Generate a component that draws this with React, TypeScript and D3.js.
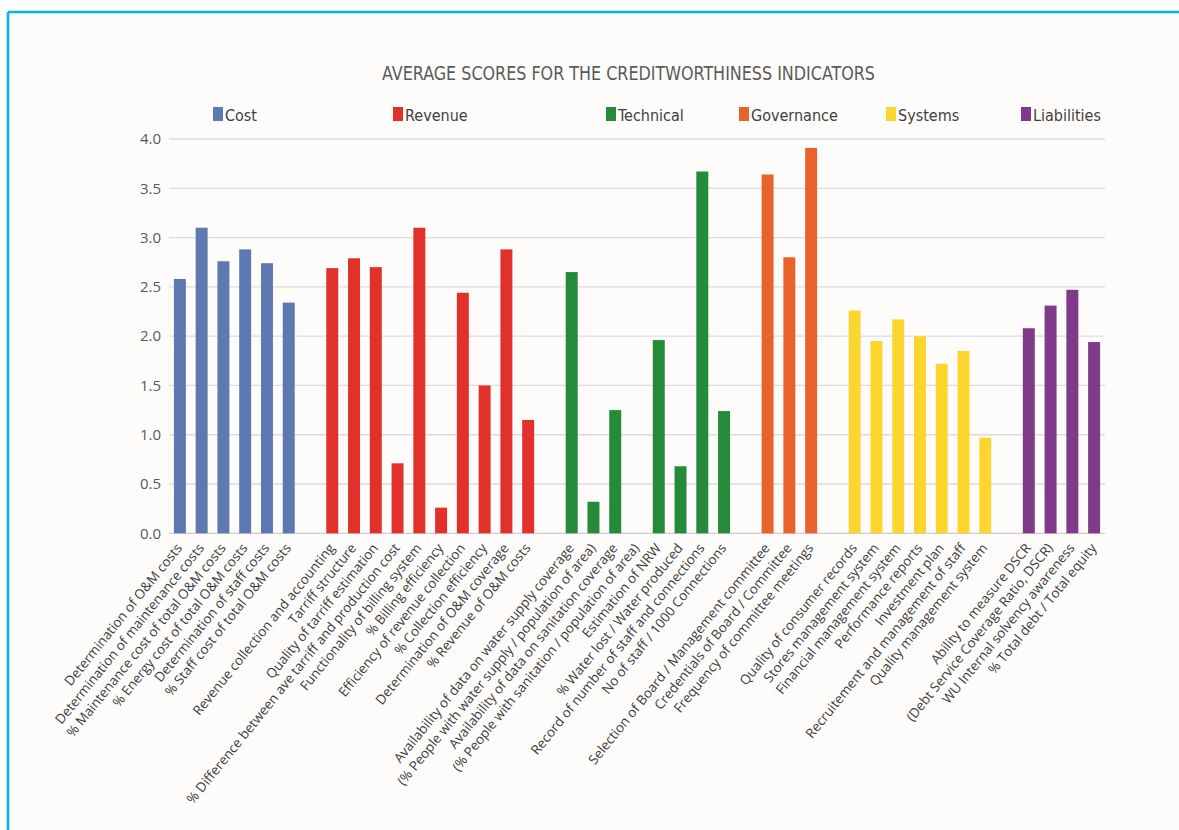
import React from "react";
import * as d3 from "d3";

const W = 1179;
const H = 830;

const groupNames = ["Cost", "Revenue", "Technical", "Governance", "Systems", "Liabilities"];
const groupColors = ["#5e78b0", "#e2312a", "#258a3a", "#e8632b", "#fcd62f", "#7f3a8a"];

const costLabels = [
  "Determination of O&M costs",
  "Determination of maintenance costs",
  "% Maintenance cost of total O&M costs",
  "% Energy cost of total O&M costs",
  "Determination of staff costs",
  "% Staff cost of total O&M costs",
];
const costValues = [2.58, 3.1, 2.76, 2.88, 2.74, 2.34];

const revenueLabels = [
  "Revenue collection and accounting",
  "Tarriff structure",
  "Quality of tarriff estimation",
  "% Difference between ave tarriff and production cost",
  "Functionality of billing system",
  "% Billing efficiency",
  "Efficiency of revenue collection",
  "% Collection efficiency",
  "Determination of O&M coverage",
  "% Revenue of O&M costs",
];
const revenueValues = [2.69, 2.79, 2.7, 0.71, 3.1, 0.26, 2.44, 1.5, 2.88, 1.15];

const technicalLabels = [
  "Availability of data on water supply coverage",
  "(% People with water supply / population of area)",
  "Availability of data on sanitation coverage",
  "(% People with sanitation / population of area)",
  "Estimation of NRW",
  "% Water lost / Water produced",
  "Record of number of staff and connections",
  "No of staff / 1000 Connections",
];
const technicalValues = [2.65, 0.32, 1.25, 0, 1.96, 0.68, 3.67, 1.24];

const governanceLabels = [
  "Selection of Board / Management committee",
  "Credentials of Board / Committee",
  "Frequency of committee meetings",
];
const governanceValues = [3.64, 2.8, 3.91];

const systemsLabels = [
  "Quality of consumer records",
  "Stores management system",
  "Financial management system",
  "Performance reports",
  "Investment plan",
  "Recruitement and management of staff",
  "Quality management system",
];
const systemsValues = [2.26, 1.95, 2.17, 2.0, 1.72, 1.85, 0.97];

const liabilitiesLabels = [
  "Ability to measure DSCR",
  "(Debt Service Coverage Ratio, DSCR)",
  "WU Internal solvency awareness",
  "% Total debt / Total equity",
];
const liabilitiesValues = [2.08, 2.31, 2.47, 1.94];

const yTicks = [0, 0.5, 1, 1.5, 2, 2.5, 3, 3.5, 4];

const title = "AVERAGE SCORES FOR THE CREDITWORTHINESS INDICATORS";

// layout
const legendX = [213, 393, 606, 739, 886, 1021];
const plotLeft = 169;
const plotRight = 1105;
const plotTop = 139;
const plotBottom = 533.3;

const groupsLabels = [costLabels, revenueLabels, technicalLabels, governanceLabels, systemsLabels, liabilitiesLabels];
const groupsValues = [costValues, revenueValues, technicalValues, governanceValues, systemsValues, liabilitiesValues];

type Item = { key: string; label: string; value: number; group: number };

const items: Item[] = [];
const domain: string[] = [];
groupsLabels.forEach((labels, g) => {
  if (g > 0) domain.push(`gap-${g}`);
  labels.forEach((label, i) => {
    const key = `${g}-${i}`;
    domain.push(key);
    items.push({ key, label, value: groupsValues[g][i], group: g });
  });
});

const x = d3
  .scaleBand<string>()
  .domain(domain)
  .range([plotLeft, plotRight])
  .paddingInner(0.45)
  .paddingOuter(0.225);

const y = d3.scaleLinear().domain([0, 4]).range([plotBottom, plotTop]);

const condensed = "'Liberation Sans Narrow', 'DejaVu Sans Condensed', 'Open Sans', sans-serif";
const labelFont = "'Open Sans', 'Noto Sans', sans-serif";

export default function App() {
  return (
    <div style={{ position: "fixed", left: 0, top: 0, width: W, height: H, background: "#ffffff" }}>
      <svg width={W} height={H} style={{ display: "block" }}>
        <rect x={8} y={12} width={W - 8} height={H - 12} fill="#fdfcfa" />
        <line x1={8} y1={12} x2={W} y2={12} stroke="#00b4f0" strokeWidth={2.6} />
        <line x1={8} y1={12} x2={8} y2={H} stroke="#00b4f0" strokeWidth={2.6} />

        <text
          x={382}
          y={80}
          textLength={493}
          lengthAdjust="spacingAndGlyphs"
          fontFamily={condensed}
          fontSize={20}
          fill="#5a5a5a"
        >
          {title}
        </text>

        {groupNames.map((name, i) => (
          <g key={name}>
            <rect x={legendX[i]} y={107} width={10} height={14} fill={groupColors[i]} />
            <text x={legendX[i] + 12} y={121} fontFamily={condensed} fontSize={16} fill="#404040">
              {name}
            </text>
          </g>
        ))}

        {yTicks.map((t) => (
          <g key={t}>
            <line
              x1={plotLeft}
              x2={plotRight}
              y1={y(t)}
              y2={y(t)}
              stroke={t === 0 ? "#d0ccd8" : "#dcdcdc"}
              strokeWidth={1.3}
            />
            <text
              x={161}
              y={y(t)}
              dy="0.35em"
              textAnchor="end"
              fontFamily={labelFont}
              fontSize={15}
              fill="#5a5a5a"
            >
              {t.toFixed(1)}
            </text>
          </g>
        ))}

        {items.map((d) => (
          <rect
            key={d.key}
            x={x(d.key)}
            y={y(d.value)}
            width={x.bandwidth()}
            height={y(0) - y(d.value)}
            fill={groupColors[d.group]}
          />
        ))}

        {items.map((d) => {
          const cx = (x(d.key) as number) + x.bandwidth() / 2;
          return (
            <text
              key={`l-${d.key}`}
              transform={`translate(${cx + 3},${plotBottom + 15}) rotate(-51)`}
              textAnchor="end"
              fontFamily={labelFont}
              fontSize={13.4}
              fill="#3c3c3c"
            >
              {d.label}
            </text>
          );
        })}
      </svg>
    </div>
  );
}
